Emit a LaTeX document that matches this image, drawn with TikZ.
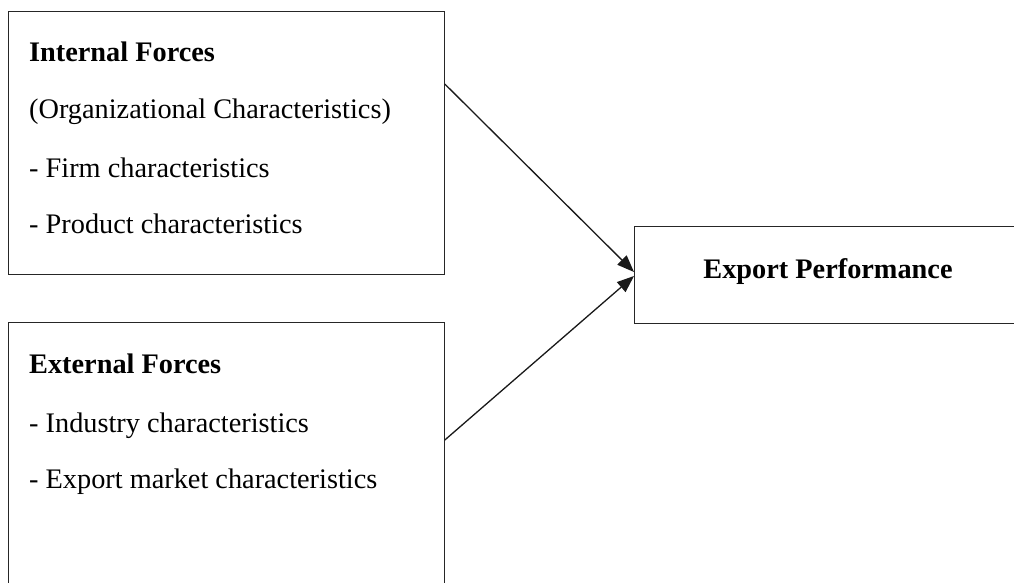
\documentclass[tikz,border=0pt]{standalone}
\usepackage{fontspec}
\setmainfont{Liberation Serif}
\usetikzlibrary{arrows.meta}
\begin{document}
\begin{tikzpicture}[x=1pt,y=-1pt,
  frame/.style={draw=black!85,line width=1.3pt},
  txt/.style={anchor=base west,inner sep=0pt,font=\fontsize{28.3}{31}\selectfont},
  head/.style={txt,font=\fontsize{28.3}{31}\selectfont\bfseries},
  link/.style={draw=black!90,line width=1.3pt,-{Triangle[length=17pt,width=13pt]}}]
  \useasboundingbox (0,0) rectangle (1014,582);
  % boxes
  \node[frame,inner sep=0pt,minimum width=436pt,minimum height=263.5pt,anchor=north west] (int) at (7.5,10.5) {};
  \node[frame,inner sep=0pt,minimum width=436pt,minimum height=280pt,anchor=north west] (ext) at (7.5,322) {};
  \node[frame,inner sep=0pt,minimum width=400pt,minimum height=97pt,anchor=north west] (perf) at (634,226) {};
  % texts of the internal box
  \node[head] (t1) at (29,61) {Internal Forces};
  \node[txt] (t2) at (29,118) {(Organizational Characteristics)};
  \node[txt] (t3) at (29,177) {- Firm characteristics};
  \node[txt] (t4) at (29,233) {- Product characteristics};
  % texts of the external box
  \node[head] (e1) at (29,373) {External Forces};
  \node[txt] (e2) at (29,432) {- Industry characteristics};
  \node[txt] (e3) at (29,488) {- Export market characteristics};
  % outcome
  \node[head,anchor=base] (p1) at (828,278) {Export Performance};
  % connectors
  \coordinate (a1) at (int.east |- 0,84);
  \coordinate (a2) at (ext.east |- 0,440);
  \coordinate (b1) at (perf.west |- 0,272);
  \coordinate (b2) at (perf.west |- 0,276);
  \draw[link] (a1) -- (b1);
  \draw[link] (a2) -- (b2);
\end{tikzpicture}
\end{document}
